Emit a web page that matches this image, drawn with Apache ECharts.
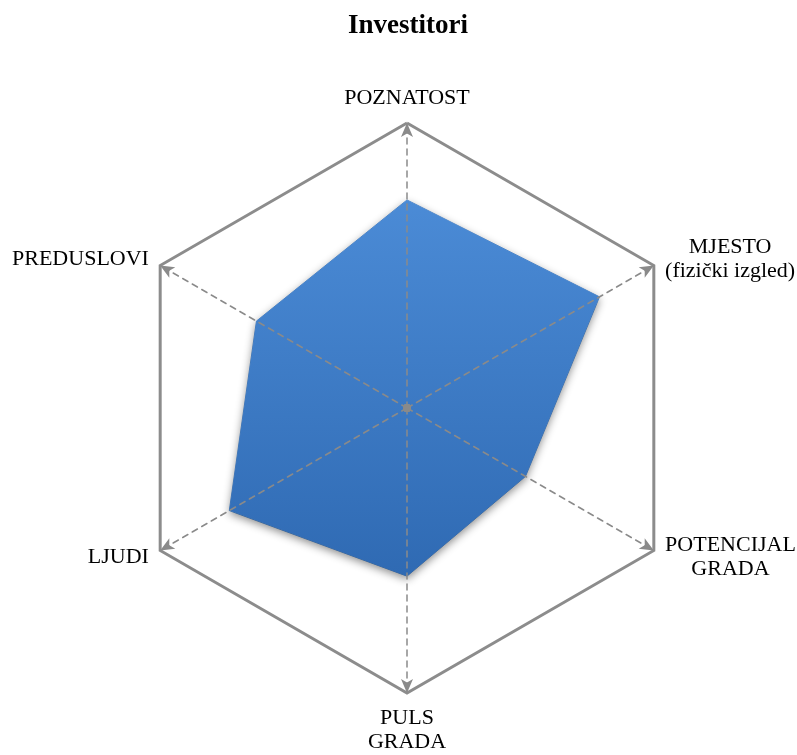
<!DOCTYPE html>
<html>
<head>
<meta charset="utf-8">
<script src="https://cdn.jsdelivr.net/npm/echarts@6/dist/echarts.min.js"></script>
<style>
  html, body { margin: 0; padding: 0; background: #fff; }
  #chart { width: 797px; height: 755px; }
</style>
</head>
<body>
<div id="chart"></div>
<script>
// indicators listed counterclockwise starting at the top (ECharts radar order)
const indicatorNames = ['POZNATOST', 'PREDUSLOVI', 'LJUDI', 'PULS\nGRADA', 'POTENCIJAL\nGRADA', 'MJESTO\n(fizički izgled)'];
const indicatorMax = 100;
const investitori = [73, 61, 72, 59, 48, 78];
const centre = [0, 0, 0, 0, 0, 0];

const chartDom = document.getElementById('chart');
const myChart = echarts.init(chartDom);

const indicators = indicatorNames.map(function (n) {
    return { name: n, max: indicatorMax, min: 0 };
});

const radarBase = {
    center: [407, 408],
    radius: 285,
    startAngle: 90,
    splitNumber: 1,
    shape: 'polygon',
    indicator: indicators
};

let option = {
    backgroundColor: '#fff',
    title: {
        text: 'Investitori',
        left: 343,
        top: 8,
        textStyle: {
            fontFamily: 'Liberation Serif',
            fontWeight: 'bold',
            fontSize: 27,
            color: '#000'
        }
    },
    radar: [
        Object.assign({}, radarBase, {
            axisName: {
                color: '#000',
                fontFamily: 'Liberation Serif',
                fontSize: 22,
                // each line centred inside its block
                formatter: function (name) {
                    return name.split('\n').map(function (s) { return '{c|' + s + '}'; }).join('\n');
                },
                rich: {
                    c: {
                        fontFamily: 'Liberation Serif',
                        fontSize: 22,
                        lineHeight: 24,
                        color: '#000',
                        align: 'center'
                    }
                }
            },
            nameGap: 13,
            splitLine: { lineStyle: { color: '#8c8c8c', width: 3 } },
            splitArea: { show: false },
            axisLine: { show: false }
        }),
        // overlay so the dashed axes sit above the filled area
        Object.assign({}, radarBase, {
            z: 5,
            axisName: { show: false },
            splitLine: { show: false },
            splitArea: { show: false },
            axisLine: {
                show: true,
                symbol: ['none', 'arrow'],
                symbolSize: [9, 14],
                lineStyle: { color: '#8a8a8a', width: 1.5, type: [6, 5] }
            }
        })
    ],
    series: [{
        type: 'radar',
        radarIndex: 0,
        symbol: 'none',
        lineStyle: { color: '#5b97dd', width: 1 },
        areaStyle: {
            opacity: 1,
            color: new echarts.graphic.LinearGradient(0, 0, 0, 1, [
                { offset: 0, color: '#4b8bd6' },
                { offset: 1, color: '#2f6ab3' }
            ]),
            shadowBlur: 8,
            shadowColor: 'rgba(0,0,0,0.45)',
            shadowOffsetY: 3
        },
        data: [{ value: investitori, name: 'Investitori' }]
    }, {
        // grey dot where the axes meet
        type: 'radar',
        radarIndex: 1,
        z: 6,
        symbol: 'circle',
        symbolSize: 8,
        itemStyle: { color: '#8a8a8a' },
        lineStyle: { width: 0 },
        silent: true,
        data: [{ value: centre }]
    }]
};

myChart.setOption(option);
window.onresize = function () {
    myChart.resize();
};
</script>
</body>
</html>
